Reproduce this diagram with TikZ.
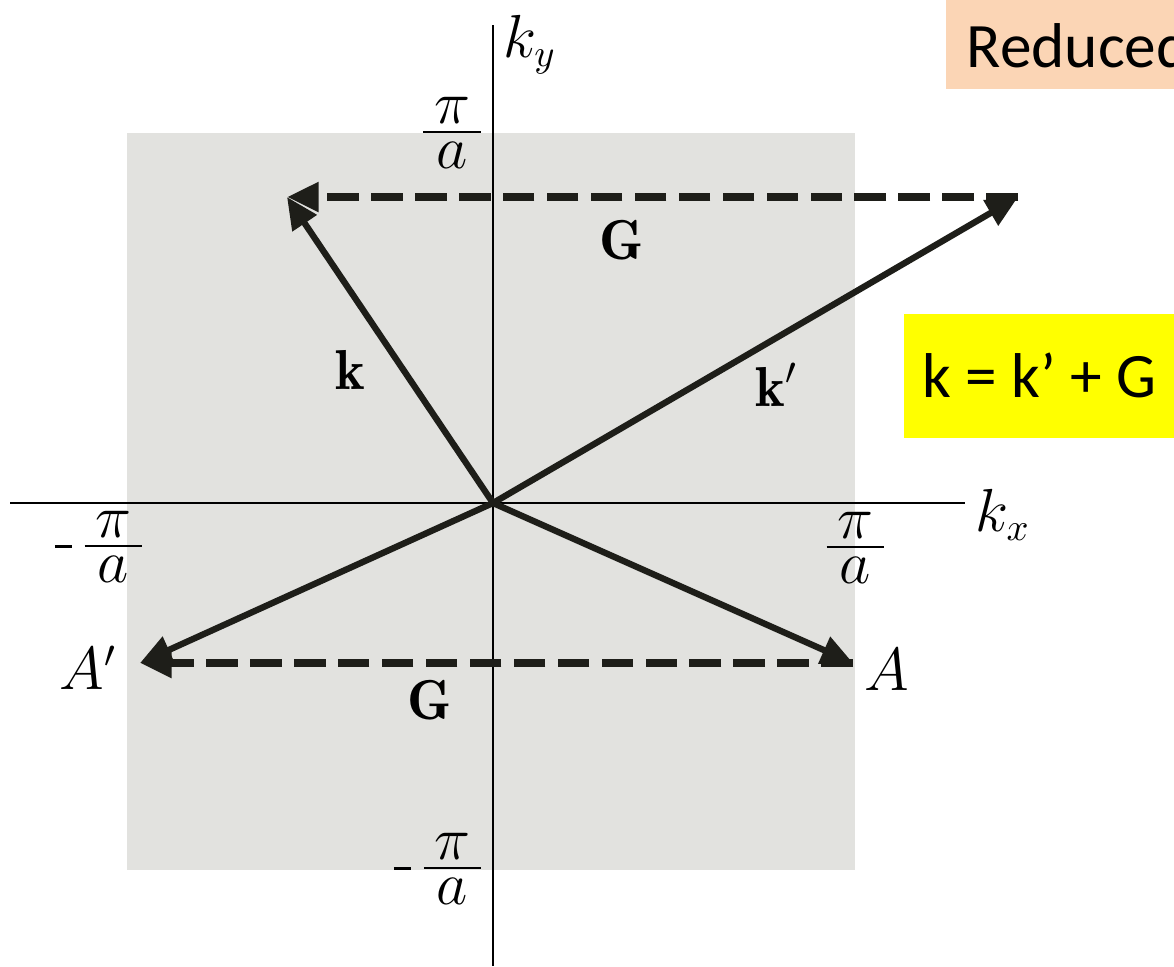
\documentclass[tikz,border=0pt]{standalone}
\usepackage{amsmath}
\usepackage{fontspec}
\newfontfamily\calibri{Carlito}
\usetikzlibrary{arrows.meta}
\definecolor{zone}{RGB}{226,226,223}
\definecolor{ink}{RGB}{30,30,25}
\definecolor{peach}{RGB}{251,213,181}
\definecolor{hilite}{RGB}{255,255,0}
\setlength{\arrayrulewidth}{0.7pt}
\newcommand{\pa}{\renewcommand{\arraystretch}{0.6}\begin{array}{@{\hspace{3pt}}c@{\hspace{3pt}}}\pi\\[-1.5pt]\hline\rule{0pt}{10pt}a\end{array}}
\newcommand{\mpa}{\rule[5.6pt]{5pt}{0.8pt}\hspace{3.5pt}$\pa$}

\begin{document}
\begin{tikzpicture}[x=0.01cm,y=-0.01cm,
  vec/.style={ink,line width=1.8pt,-{Triangle[length=9pt,width=8pt]}},
  gvec/.style={vec,line width=2.2pt,dash pattern=on 9pt off 3.5pt},
  axis/.style={line width=0.6pt},
  lab/.style={font=\fontsize{16}{19}\selectfont,inner sep=1pt},
  note/.style={font=\calibri\fontsize{18}{22}\selectfont,inner sep=0pt}]
  \useasboundingbox (0,0) rectangle (1174,966);
  \clip (0,0) rectangle (1174,966);
  % zone
  \fill[zone] (127,133) rectangle (855,870);
  % axes
  \coordinate (xl) at (10,503); \coordinate (xr) at (965,503);
  \coordinate (yt) at (493,25); \coordinate (yb) at (493,966);
  \draw[axis] (xl) -- (xr); \draw[axis] (yt) -- (yb);
  % vectors
  \coordinate (O) at (493,503);
  \coordinate (K) at (287,197); \coordinate (Kp) at (1018,197);
  \coordinate (A) at (853,663); \coordinate (Ap) at (140,663);
  \draw[gvec] (Kp) -- (K);
  \draw[gvec] (A) -- (Ap);
  \draw[vec] (O) -- (K);
  \draw[vec] (O) -- (Kp);
  \draw[vec] (O) -- (A);
  \draw[vec] (O) -- (Ap);
  % labels
  \node[lab] (ky) at (530,45) {$k_y$};
  \node[lab] (kx) at (1003,515) {$k_x$};
  \node[lab] (pt) at (452,138) {$\pa$};
  \node[lab] (pr) at (855,553) {$\pa$};
  \node[lab,anchor=east] (pl) at (146,552) {\mpa};
  \node[lab,anchor=east] (pb) at (485,874) {\mpa};
  \node[lab] (gt) at (622,240) {$\mathbf{G}$};
  \node[lab] (gb) at (430,700) {$\mathbf{G}$};
  \node[lab] (kl) at (350,370) {$\mathbf{k}$};
  \node[lab] (kpl) at (777,385) {$\mathbf{k}'$};
  \node[lab] (al) at (887,670) {$A$};
  \node[lab] (apl) at (88,668) {$A'$};
  % notes
  \fill[peach] (946,0) rectangle (1200,89);
  \node[note,anchor=west] (red) at (966,46) {Reduced};
  \node[note,fill=hilite,minimum width=2.71cm,minimum height=1.24cm,anchor=north west] (eq) at (903,313) {k = k’ + G};
\end{tikzpicture}
\end{document}
